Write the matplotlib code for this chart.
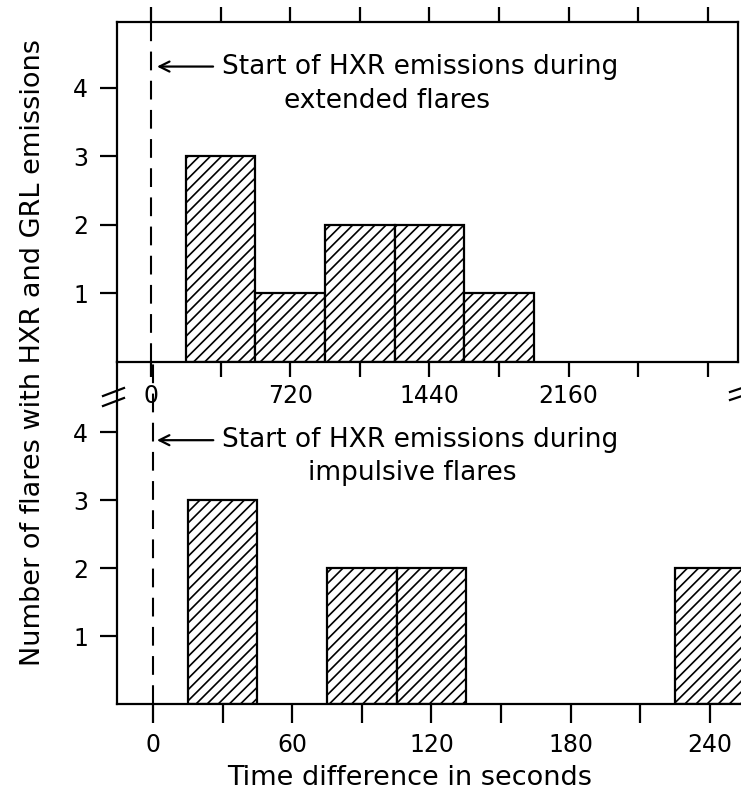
import matplotlib
matplotlib.use("Agg")
import matplotlib.pyplot as plt
from matplotlib.lines import Line2D

# ---- data ----
top_centers = [360, 720, 1080, 1440, 1800]
top_counts = [3, 1, 2, 2, 1]
top_width = 360
top_ticks = [0, 360, 720, 1080, 1440, 1800, 2160, 2520, 2880]
top_ticklabels = ["0", "", "720", "", "1440", "", "2160", "", ""]

bot_centers = [30, 90, 120, 240]
bot_counts = [3, 2, 2, 2]
bot_width = 30
bot_ticks = [0, 30, 60, 90, 120, 150, 180, 210, 240]
bot_ticklabels = ["0", "", "60", "", "120", "", "180", "", "240"]

y_ticks = [1, 2, 3, 4]
y_ticklabels = ["1", "2", "3", "4"]

plt.rcParams["font.family"] = ["DejaVu Sans"]
plt.rcParams["hatch.linewidth"] = 1.2

W, H = 741, 792
fig = plt.figure(figsize=(W / 100, H / 100), dpi=100)


def fx(px):
    return px / W


def fy(py):
    return 1 - py / H


# axes positions (pixels)
L, R_top, R_bot = 117, 738, 741
T_top, B_top, B_bot = 22, 362, 704

ax1 = fig.add_axes([fx(L), fy(B_top), fx(R_top) - fx(L), fy(T_top) - fy(B_top)])
ax2 = fig.add_axes([fx(L), fy(B_bot), fx(R_bot) - fx(L), fy(B_top) - fy(B_bot)])
ax2.set_facecolor("none")

lw = 1.6
tick_fs = 17
txt_fs = 19
for ax in (ax1, ax2):
    for s in ax.spines.values():
        s.set_linewidth(lw)
    ax.tick_params(axis="both", direction="out", width=lw, labelsize=tick_fs)
    ax.tick_params(axis="y", length=12, pad=9)

# ---- top panel ----
ax1.bar(top_centers, top_counts, width=top_width, facecolor="white",
        edgecolor="black", linewidth=lw, hatch="///", zorder=2)
ax1.set_xlim(-176, 3036)
ax1.set_ylim(0, 4.96)
ax1.set_xticks(top_ticks)
ax1.set_xticklabels(top_ticklabels)
ax1.tick_params(axis="x", length=11, pad=5, top=True, labeltop=False)
ax1.set_yticks(y_ticks)
ax1.set_yticklabels(y_ticklabels)
ax1.axvline(0, color="black", lw=1.5, linestyle=(0, (9, 5)), zorder=3)

ax1.annotate("", xy=(31, 4.31), xytext=(321, 4.31),
             arrowprops=dict(arrowstyle="->", lw=1.6, color="black",
                             mutation_scale=18, shrinkA=0, shrinkB=0))
ax1.text(367, 4.31, "Start of HXR emissions during", fontsize=txt_fs,
         ha="left", va="center")
ax1.text(1221, 3.81, "extended flares", fontsize=txt_fs, ha="center",
         va="center")

# ---- bottom panel ----
ax2.bar(bot_centers, bot_counts, width=bot_width, facecolor="white",
        edgecolor="black", linewidth=lw, hatch="///", zorder=2)
ax2.set_xlim(-15.5, 253.4)
ax2.set_ylim(0, 5.03)
ax2.spines["top"].set_visible(False)
ax2.spines["right"].set_visible(False)
ax2.set_xticks(bot_ticks)
ax2.set_xticklabels(bot_ticklabels)
ax2.tick_params(axis="x", length=14, pad=7)
ax2.set_yticks(y_ticks)
ax2.set_yticklabels(y_ticklabels)
ax2.axvline(0, color="black", lw=1.5, linestyle=(0, (9, 5)), zorder=3)

ax2.annotate("", xy=(1.7, 3.88), xytext=(26, 3.88),
             arrowprops=dict(arrowstyle="->", lw=1.6, color="black",
                             mutation_scale=18, shrinkA=0, shrinkB=0))
ax2.text(29.7, 3.88, "Start of HXR emissions during", fontsize=txt_fs,
         ha="left", va="center")
ax2.text(111.6, 3.40, "impulsive flares", fontsize=txt_fs, ha="center",
         va="center")

# ---- labels ----
fig.text(fx(33), fy(352), "Number of flares with HXR and GRL emissions",
         rotation=90, ha="center", va="center", fontsize=19.5)
fig.text(fx(410), fy(778), "Time difference in seconds", ha="center",
         va="center", fontsize=19.5)

# ---- axis break marks ----
for dy in (0, 10):
    fig.add_artist(Line2D([fx(103), fx(124)], [fy(396 + dy), fy(388 + dy)],
                          color="black", lw=1.6))
for dy in (0, 8):
    fig.add_artist(Line2D([fx(730), fx(745)], [fy(392 + dy), fy(387 + dy)],
                          color="black", lw=1.6))

fig.savefig("out.png", dpi=100)
